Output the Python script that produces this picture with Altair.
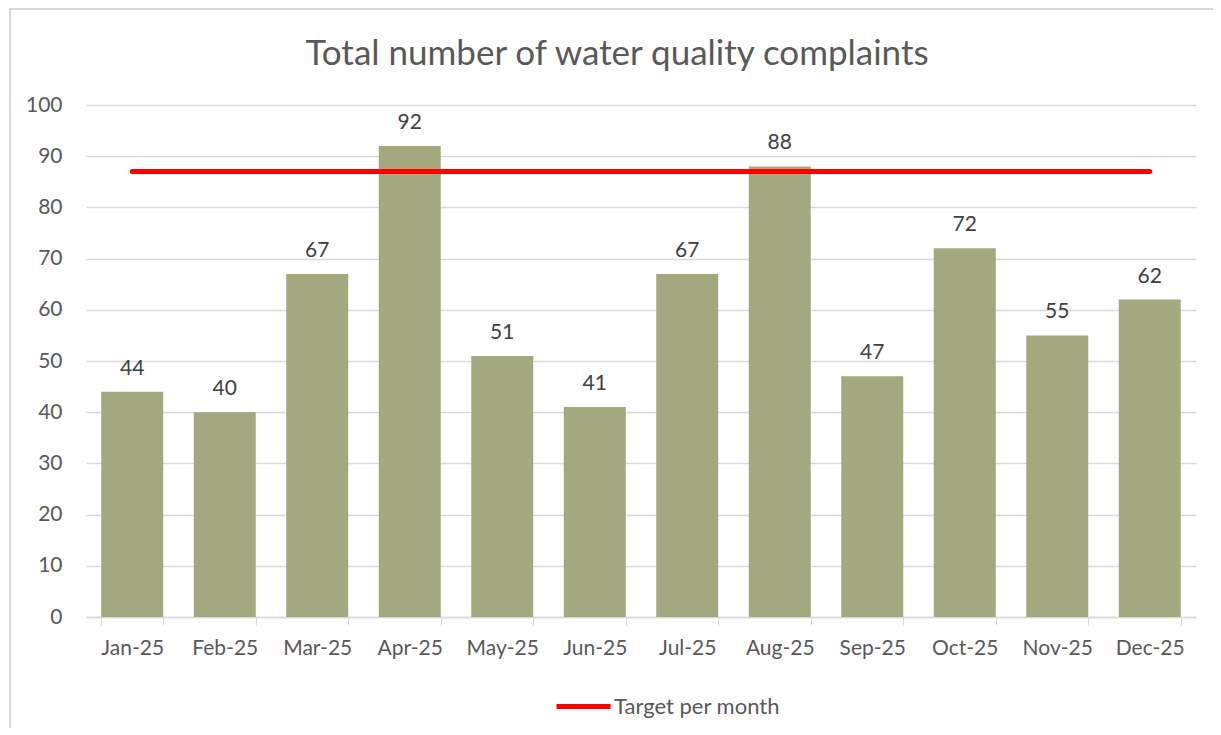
import altair as alt
import pandas as pd

months = ["Jan-25", "Feb-25", "Mar-25", "Apr-25", "May-25", "Jun-25",
          "Jul-25", "Aug-25", "Sep-25", "Oct-25", "Nov-25", "Dec-25"]
complaints = [44, 40, 67, 92, 51, 41, 67, 88, 47, 72, 55, 62]
target = [87] * 12
series_name = "Target per month"
chart_title = "Total number of water quality complaints"

df = pd.DataFrame({"month": months, "complaints": complaints,
                   "target": target, "series": [series_name] * 12})

FONT = "Lato"
TXT = "#595959"

x = alt.X("month:N", sort=months, title=None,
          scale=alt.Scale(paddingInner=0.33, paddingOuter=0.165),
          axis=alt.Axis(labelAngle=0, labelFontSize=21, labelColor=TXT, labelFont=FONT,
                        labelPadding=12, domainColor="#D9D9D9", tickColor="#D9D9D9",
                        tickBand="extent", tickSize=8, domainWidth=1.5))

bars = alt.Chart(df).mark_bar(color="#A3A87E").encode(
    x=x,
    y=alt.Y("complaints:Q", title=None,
            scale=alt.Scale(domain=[0, 100], nice=False),
            axis=alt.Axis(values=list(range(0, 101, 10)), labelFontSize=21, labelColor=TXT,
                          labelFont=FONT, labelPadding=24, domain=False, ticks=False,
                          gridColor="#D9D9D9", gridWidth=1.5)),
)

labels = alt.Chart(df).mark_text(baseline="bottom", dy=-13, fontSize=21, color="#404040",
                                 font=FONT).encode(
    x=alt.X("month:N", sort=months),
    y="complaints:Q",
    text="complaints:Q",
)

line = alt.Chart(df).mark_line(strokeWidth=5, strokeCap="round").encode(
    x=alt.X("month:N", sort=months),
    y="target:Q",
    color=alt.Color("series:N",
                    scale=alt.Scale(domain=[series_name], range=["#FF0000"]),
                    legend=alt.Legend(title=None, orient="none", legendX=468, legendY=572,
                                      symbolType="stroke", symbolSize=2916,
                                      symbolStrokeWidth=5, labelFontSize=22,
                                      labelColor=TXT, labelFont=FONT, labelOffset=1,
                                      labelLimit=400)),
)

border = alt.Chart(df).mark_rect(fill=None, stroke="#D9D9D9", strokeWidth=1.5).encode(
    x=alt.value(-76), x2=alt.value(1132), y=alt.value(-96), y2=alt.value(640)
)

title = alt.Chart(pd.DataFrame({"t": [chart_title]})).mark_text(
    fontSize=35, font=FONT, color=TXT, align="center", baseline="middle"
).encode(x=alt.value(531), y=alt.value(-51), text="t:N")

chart = alt.layer(border, bars, labels, line, title).properties(
    width=1110, height=512,
    autosize=alt.AutoSizeParams(type="none"),
    padding={"left": 78, "top": 97, "right": 17, "bottom": 111},
).configure_view(stroke=None)

chart.save("out.html", embed_options={"renderer": "svg", "actions": False})
